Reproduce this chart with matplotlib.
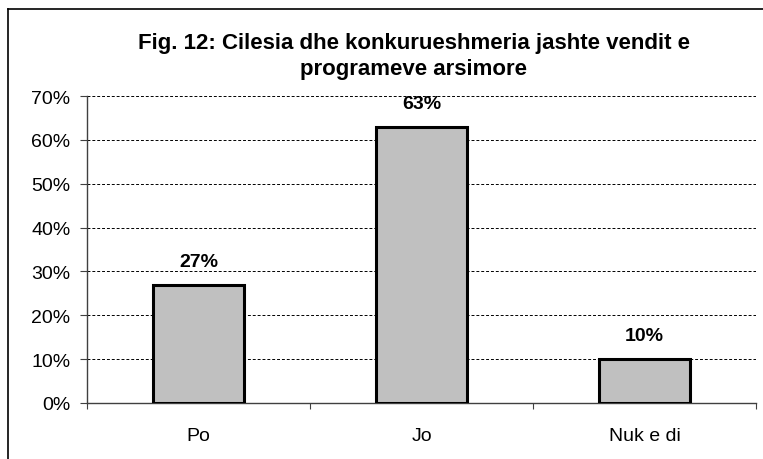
import matplotlib.pyplot as plt
from matplotlib.lines import Line2D

# data
categories = ["Po", "Jo", "Nuk e di"]
values = [27, 63, 10]
y_ticks = [0, 10, 20, 30, 40, 50, 60, 70]

plt.rcParams['font.family'] = ['Liberation Sans', 'DejaVu Sans']

fig = plt.figure(figsize=(7.63, 4.60), dpi=100)
ax = fig.add_axes([87 / 763, 1 - 404 / 460, (756 - 87) / 763, (404 - 97) / 460])

x = list(range(len(categories)))
bars = ax.bar(x, values, width=0.41, color="#c0c0c0", edgecolor="black",
              linewidth=2.2, zorder=3)

for b, v in zip(bars, values):
    ax.text(b.get_x() + b.get_width() / 2, v + 3.4, f"{v}%", ha="center",
            va="bottom", fontsize=14, fontweight="bold")

ax.set_xlim(-0.5, 2.5)
ax.set_ylim(0, 70)
ax.set_yticks(y_ticks)
ax.set_yticklabels([f"{t}%" for t in y_ticks], fontsize=14)
ax.yaxis.grid(True, linestyle=(0, (3, 2)), color="black", linewidth=0.7)
ax.set_axisbelow(True)

# category labels at centre, ticks on boundaries
ax.set_xticks([-0.5, 0.5, 1.5, 2.5])
ax.set_xticklabels([])
ax.tick_params(axis="x", length=4, color="#404040")
ax.tick_params(axis="y", length=5, color="#404040", pad=7)
for i, c in enumerate(categories):
    ax.text(i, -5.4, c, ha="center", va="top", fontsize=14)

for s in ["top", "right"]:
    ax.spines[s].set_visible(False)
for s in ["left", "bottom"]:
    ax.spines[s].set_color("#404040")
    ax.spines[s].set_linewidth(1)

fig.text(414 / 763, 1 - 44 / 460, "Fig. 12: Cilesia dhe konkurueshmeria jashte vendit e",
         ha="center", va="center", fontsize=16, fontweight="bold")
fig.text(414 / 763, 1 - 70 / 460, "programeve arsimore",
         ha="center", va="center", fontsize=16, fontweight="bold")

# outer frame (cut off on right and bottom)
fig.add_artist(Line2D([8 / 763, 8 / 763], [0, 1 - 10 / 460], color="black",
                      linewidth=1.2, transform=fig.transFigure))
fig.add_artist(Line2D([8 / 763, 1], [1 - 10 / 460, 1 - 10 / 460], color="black",
                      linewidth=1.2, transform=fig.transFigure))

fig.savefig("out.png", dpi=100)
